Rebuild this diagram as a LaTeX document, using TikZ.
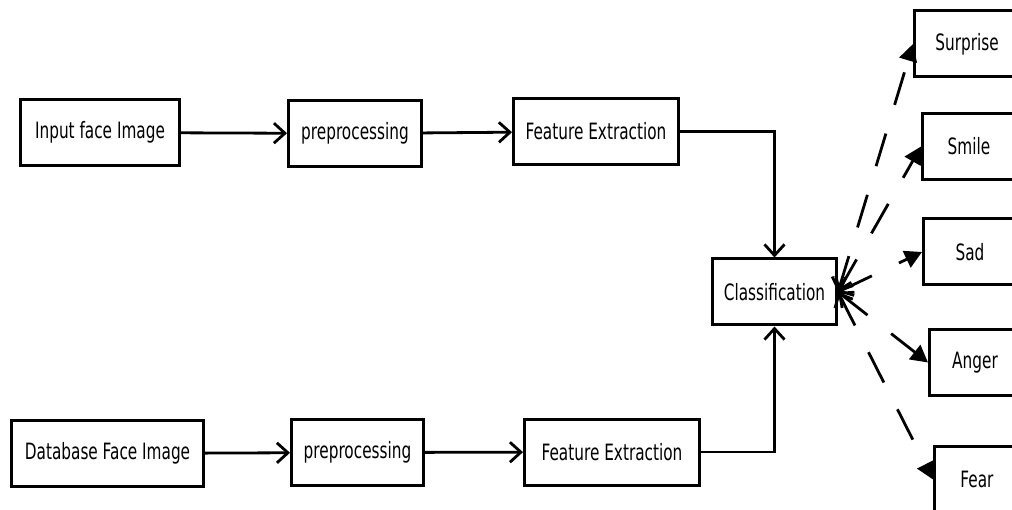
\documentclass[tikz,border=0pt]{standalone}
\usepackage{fontspec}
\setmainfont{DejaVu Sans}[FakeStretch=0.68]
\usetikzlibrary{positioning,arrows.meta}

\begin{document}
\begin{tikzpicture}[x=1pt,y=-1pt,
    box/.style={draw,line width=3pt,minimum height=66pt,inner sep=0pt,font=\fontsize{22.5}{26}\selectfont},
    arr/.style={line width=2.8pt,-{Straight Barb[length=11pt,width=20pt]}},
    dsh/.style={line width=2.8pt,dash pattern=on 34pt off 30pt,
        {Straight Barb[length=11pt,width=20pt]}-{Triangle[length=17pt,width=18pt]}}]
        \useasboundingbox (0,0) rectangle (1012,510);
        % upper row
        \node[box,minimum width=159pt] (in) at (100,132.5) {Input face Image};
        \node[box,minimum width=133pt] (pre1) at (355,133.5) {preprocessing};
        \node[box,minimum width=165pt] (fe1) at (596,131.5) {Feature Extraction};
        % lower row
        \node[box,minimum width=192pt] (db) at (107.5,453.5) {Database Face Image};
        \node[box,minimum width=132pt] (pre2) at (357.5,452.5) {preprocessing};
        \node[box,minimum width=175pt] (fe2) at (612,452) {Feature Extraction};
        \node[box,minimum width=124pt] (cls) at (774.5,292) {Classification};
        % emotions
        \node[box,minimum width=105pt] (sur) at (967,44) {Surprise};
        \node[box,minimum width=93pt] (smi) at (969,146.5) {Smile};
        \node[box,minimum width=93pt] (sad) at (970,252) {Sad};
        \node[box,minimum width=91pt] (ang) at (975,362.5) {Anger};
        \node[box,minimum width=85pt] (fea) at (977,479.5) {Fear};
        \draw[arr] (in) -- (pre1);
        \draw[arr] (pre1) -- (fe1);
        \draw[arr] (db) -- (pre2);
        \draw[arr] (pre2) -- (fe2);
        \draw[arr] (fe1.east) -| (cls.north);
        \draw[arr] (fe2.east) -| (cls.south);
        \foreach \e in {sur,smi,sad,ang,fea}
            \draw[dsh] (cls.east) -- (\e.west);
    \end{tikzpicture}
\end{document}
